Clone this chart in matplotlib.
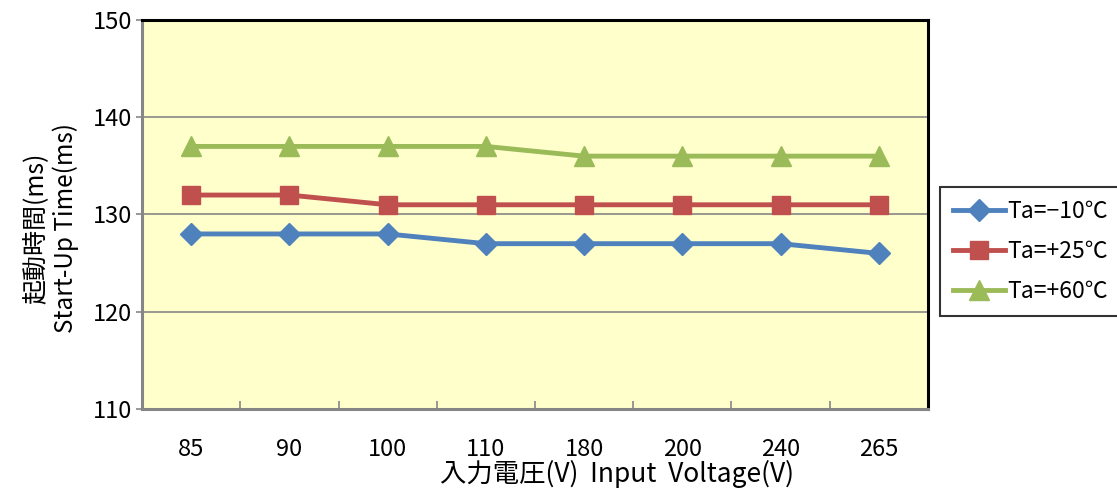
import matplotlib.pyplot as plt
import numpy as np

plt.rcParams['font.family'] = ['Noto Sans CJK JP', 'DejaVu Sans']

voltages = ['85', '90', '100', '110', '180', '200', '240', '265']
t_m10 = [128, 128, 128, 127, 127, 127, 127, 126]
t_p25 = [132, 132, 131, 131, 131, 131, 131, 131]
t_p60 = [137, 137, 137, 137, 136, 136, 136, 136]

labels = ['Ta=−10℃', 'Ta=+25℃', 'Ta=+60℃']
colors = ['#4F81BD', '#C0504D', '#9BBB59']
markers = ['D', 's', '^']
msizes = [11, 13, 14]

fig = plt.figure(figsize=(11.17, 4.88), dpi=100)
ax = fig.add_axes([142 / 1117, 1 - 409 / 488, 786 / 1117, 389 / 488])
ax.set_facecolor('#FFFFCC')

x = np.arange(len(voltages))
for ys, lab, c, m, ms in zip([t_m10, t_p25, t_p60], labels, colors, markers, msizes):
    ax.plot(x, ys, color=c, lw=3.5, marker=m, markersize=ms, label=lab, zorder=3)

ax.set_ylim(110, 150)
ax.set_yticks([110, 120, 130, 140, 150])
ax.set_xlim(-0.5, len(voltages) - 0.5)
ax.set_xticks(x)
ax.set_xticklabels(voltages)
ax.set_xticks(x[:-1] + 0.5, minor=True)
ax.grid(axis='y', color='#868686', lw=1.2, zorder=1)
ax.set_axisbelow(True)

ax.tick_params(axis='x', which='major', length=0, pad=21, labelsize=17)
ax.tick_params(axis='x', which='minor', direction='in', length=6, width=1.2, color='#868686')
ax.tick_params(axis='y', length=4, width=1.2, color='#868686', pad=3, labelsize=17)

for s in ['left', 'bottom']:
    ax.spines[s].set_color('#868686')
    ax.spines[s].set_linewidth(2.2)
for s in ['top', 'right']:
    ax.spines[s].set_color('black')
    ax.spines[s].set_linewidth(2.2)

fig.text(35 / 1117, 1 - 228 / 488, '起動時間(ms)', rotation=90, ha='center', va='center', fontsize=18)
fig.text(66 / 1117, 1 - 228 / 488, 'Start-Up Time(ms)', rotation=90, ha='center', va='center', fontsize=17.5)
fig.text(617 / 1117, 1 - 474 / 488, '入力電圧(V)  Input  Voltage(V)', ha='center', va='center', fontsize=19)

# legend sits at the right edge; its frame runs off the figure
leg = fig.legend(loc='upper left', bbox_to_anchor=(940 / 1117, 1 - 187 / 488),
                 fontsize=16.5, frameon=True, fancybox=False, handlelength=2.3,
                 handletextpad=0.1, borderpad=0.55, labelspacing=0.75, borderaxespad=0)
leg.get_frame().set_edgecolor('black')
leg.get_frame().set_linewidth(1.5)

fig.savefig('out.png', dpi=100)
